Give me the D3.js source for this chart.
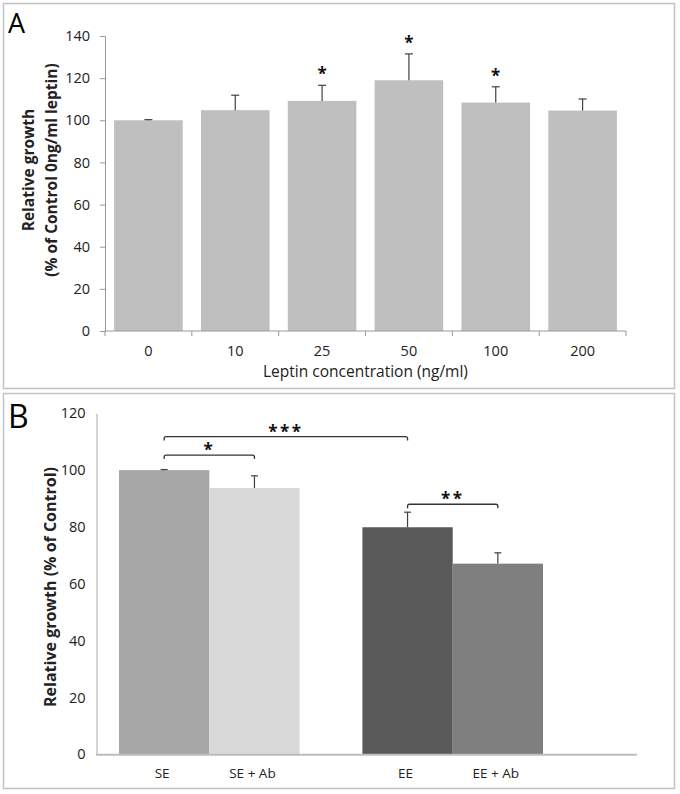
<!DOCTYPE html>
<html>
<head>
<meta charset="utf-8">
<script src="https://cdn.jsdelivr.net/npm/d3@7"></script>
<style>
  html, body { margin: 0; padding: 0; background: #fff; }
  svg { display: block; font-family: "Open Sans", "Liberation Sans", sans-serif; }
</style>
</head>
<body>
<svg id="chart" width="680" height="794"></svg>
<script>
// ---------- Panel A data ----------
const leptinConc = ["0", "10", "25", "50", "100", "200"];
const growthA = [100, 104.8, 109.2, 119.0, 108.4, 104.6];
const errorA = [0.3, 7.1, 7.4, 12.5, 7.5, 5.5];
const sigA = ["", "", "*", "*", "*", ""];
const yTicksA = [0, 20, 40, 60, 80, 100, 120, 140];

// ---------- Panel B data ----------
const groupsB = ["SE", "SE + Ab", "EE", "EE + Ab"];
const pairsB = [["SE", "SE + Ab"], ["EE", "EE + Ab"]];
const growthB = [100, 93.7, 79.9, 67.1];
const errorB = [0.2, 4.3, 5.3, 3.8];
const yTicksB = [0, 20, 40, 60, 80, 100, 120];
const compFrom = ["SE", "SE", "EE"];
const compTo = ["SE + Ab", "EE", "EE + Ab"];
const compLabel = ["*", "***", "**"];
const compLevel = [105.3, 111.8, 88.0];   // bracket height in % units

const svg = d3.select("#chart");
const font = '"Open Sans", "Liberation Sans", sans-serif';

// ---------- panel frames ----------
svg.append("rect").attr("x", 3.5).attr("y", 3.5).attr("width", 671).attr("height", 385)
  .attr("fill", "none").attr("stroke", "#c3c3c3").attr("stroke-width", 1.5);
svg.append("rect").attr("x", 3.5).attr("y", 393.5).attr("width", 671).attr("height", 395)
  .attr("fill", "none").attr("stroke", "#c3c3c3").attr("stroke-width", 1.5);

svg.append("text").attr("x", 8).attr("y", 33).text("A")
  .attr("font-size", 27).attr("fill", "#000");
svg.append("text").attr("x", 8).attr("y", 428).text("B")
  .attr("font-size", 32).attr("fill", "#000");

// ================= Panel A =================
const xA = d3.scaleBand().domain(leptinConc).range([105, 626])
  .paddingInner(0.21).paddingOuter(0.105);
const yA = d3.scaleLinear().domain([0, 140]).range([331, 36]);

const gA = svg.append("g");

// bars
gA.selectAll("rect.barA").data(leptinConc).join("rect")
  .attr("class", "barA")
  .attr("x", d => xA(d))
  .attr("width", xA.bandwidth())
  .attr("y", (d, i) => yA(growthA[i]))
  .attr("height", (d, i) => yA(0) - yA(growthA[i]))
  .attr("fill", "#bfbfbf");

// error bars
const capA = 4;
leptinConc.forEach((d, i) => {
  const cx = xA(d) + xA.bandwidth() / 2;
  const y1 = yA(growthA[i]);
  const y2 = yA(growthA[i] + errorA[i]);
  gA.append("line").attr("x1", cx).attr("x2", cx).attr("y1", y1).attr("y2", y2)
    .attr("stroke", "#404040").attr("stroke-width", 1.2);
  gA.append("line").attr("x1", cx - capA).attr("x2", cx + capA).attr("y1", y2).attr("y2", y2)
    .attr("stroke", "#404040").attr("stroke-width", 1.2);
  if (sigA[i]) {
    gA.append("text").attr("x", cx).attr("y", y2 - 5)
      .attr("text-anchor", "middle").attr("font-weight", "bold")
      .attr("font-size", 17).attr("fill", "#111").text(sigA[i]);
  }
});

// y axis
const axA = gA.append("g").attr("transform", "translate(105,0)")
  .call(d3.axisLeft(yA).tickValues(yTicksA).tickSize(5).tickPadding(10));
axA.select(".domain").attr("stroke", "#999");
axA.selectAll(".tick line").attr("stroke", "#999");
axA.selectAll(".tick text").attr("font-family", font).attr("font-size", 14.5).attr("fill", "#222");

// x axis: labels at centers, ticks at category boundaries
const axXA = gA.append("g").attr("transform", "translate(0,331)")
  .call(d3.axisBottom(xA).tickSize(0).tickPadding(15));
axXA.select(".domain").remove();
axXA.selectAll(".tick text").attr("font-family", font).attr("font-size", 14.5).attr("fill", "#222");
gA.append("line").attr("x1", 105).attr("x2", 626).attr("y1", 331).attr("y2", 331)
  .attr("stroke", "#999");
d3.range(leptinConc.length + 1).forEach(k => {
  const bx = xA.range()[0] + k * xA.step();
  gA.append("line").attr("x1", bx).attr("x2", bx).attr("y1", 331).attr("y2", 336)
    .attr("stroke", "#999");
});

gA.append("text").attr("x", 365.5).attr("y", 377).attr("text-anchor", "middle")
  .attr("font-size", 15.5).attr("fill", "#222").text("Leptin concentration (ng/ml)");

const ylabA = gA.append("text").attr("transform", "translate(0,170) rotate(-90)")
  .attr("text-anchor", "middle").attr("font-weight", "bold").attr("font-size", 15.5).attr("fill", "#222");
ylabA.append("tspan").attr("x", 0).attr("y", 34).text("Relative growth");
ylabA.append("tspan").attr("x", 0).attr("y", 57).text("(% of Control 0ng/ml leptin)");

// ================= Panel B =================
const yB = d3.scaleLinear().domain([0, 120]).range([754.3, 413.3]);
const xB0 = d3.scaleBand().domain(pairsB.map(p => p[0])).range([119, 543]).paddingInner(0.258);
const xB1 = d3.scaleBand().domain([0, 1]).range([0, xB0.bandwidth()]);
const groupOf = d => pairsB.find(p => p.includes(d));
const xB = d => xB0(groupOf(d)[0]) + xB1(groupOf(d).indexOf(d));
const colorB = d3.scaleOrdinal().domain(groupsB).range(["#a6a6a6", "#d9d9d9", "#595959", "#7f7f7f"]);

const gB = svg.append("g");

gB.selectAll("rect.barB").data(groupsB).join("rect")
  .attr("class", "barB")
  .attr("x", d => xB(d))
  .attr("width", xB1.bandwidth())
  .attr("y", (d, i) => yB(growthB[i]))
  .attr("height", (d, i) => yB(0) - yB(growthB[i]))
  .attr("fill", d => colorB(d));

const capB = 3.5;
groupsB.forEach((d, i) => {
  const cx = xB(d) + xB1.bandwidth() / 2;
  const y1 = yB(growthB[i]);
  const y2 = yB(growthB[i] + errorB[i]);
  gB.append("line").attr("x1", cx).attr("x2", cx).attr("y1", y1).attr("y2", y2)
    .attr("stroke", "#404040").attr("stroke-width", 1.2);
  gB.append("line").attr("x1", cx - capB).attr("x2", cx + capB).attr("y1", y2).attr("y2", y2)
    .attr("stroke", "#404040").attr("stroke-width", 1.2);
});

// axes
const axB = gB.append("g").attr("transform", "translate(96.5,0)")
  .call(d3.axisLeft(yB).tickValues(yTicksB).tickSize(0).tickPadding(11));
axB.select(".domain").attr("stroke", "#aaa");
axB.selectAll(".tick text").attr("font-family", font).attr("font-size", 14.5).attr("fill", "#222");

gB.append("line").attr("x1", 96).attr("x2", 637).attr("y1", 754.8).attr("y2", 754.8)
  .attr("stroke", "#bdbdbd").attr("stroke-width", 2);

gB.selectAll("text.catB").data(groupsB).join("text")
  .attr("class", "catB")
  .attr("x", d => xB(d) + xB1.bandwidth() / 2 - 2)
  .attr("y", 778)
  .attr("text-anchor", "middle").attr("font-size", 13.5).attr("fill", "#222")
  .text(d => d);

gB.append("text").attr("transform", "translate(56,587) rotate(-90)")
  .attr("text-anchor", "middle").attr("font-weight", "bold").attr("font-size", 16).attr("fill", "#222")
  .text("Relative growth (% of Control)");

// significance brackets
compLabel.forEach((lab, k) => {
  const x1 = xB(compFrom[k]) + xB1.bandwidth() / 2;
  const x2 = xB(compTo[k]) + xB1.bandwidth() / 2;
  const y = yB(compLevel[k]);
  const r = 2;
  const p = d3.path();
  p.moveTo(x1, y + 4);
  p.lineTo(x1, y + r);
  p.quadraticCurveTo(x1, y, x1 + r, y);
  p.lineTo(x2 - r, y);
  p.quadraticCurveTo(x2, y, x2, y + r);
  p.lineTo(x2, y + 4);
  gB.append("path").attr("d", p.toString()).attr("fill", "none")
    .attr("stroke", "#333").attr("stroke-width", 1.3);
  gB.append("text").attr("x", (x1 + x2) / 2).attr("y", y + 1)
    .attr("text-anchor", "middle").attr("font-weight", "bold").attr("font-size", 17)
    .attr("letter-spacing", 2.5).attr("fill", "#111").text(lab);
});
</script>
</body>
</html>
